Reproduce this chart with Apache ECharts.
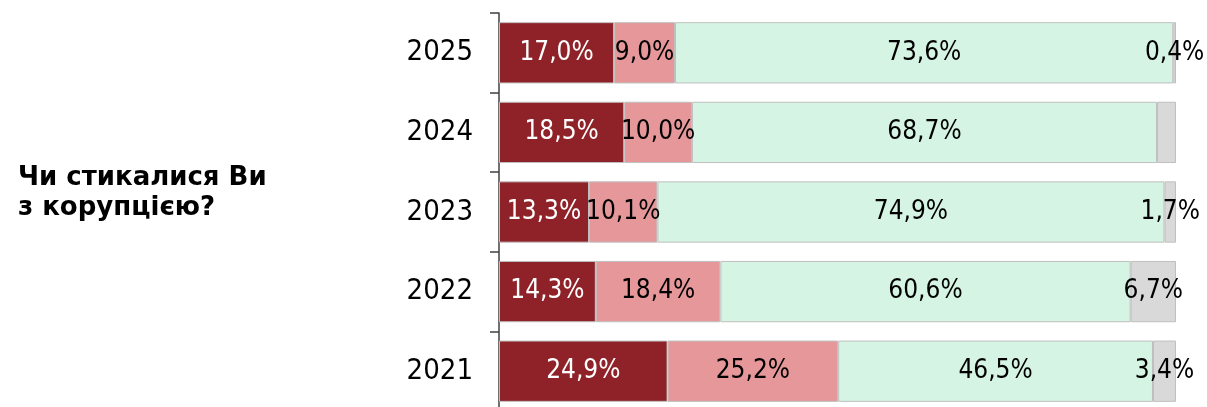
<!DOCTYPE html>
<html>
<head>
<meta charset="utf-8">
<script src="https://cdn.jsdelivr.net/npm/echarts@6/dist/echarts.min.js"></script>
<style>
html,body{margin:0;padding:0;background:#fff;}
#c{width:1207px;height:407px;}
</style>
</head>
<body>
<div id="c"></div>
<script>
const years = ['2025', '2024', '2023', '2022', '2021'];
const seriesNames = ['Так, часто', 'Так, іноді', 'Ні', 'Важко відповісти'];
const valsDark = [17.0, 18.5, 13.3, 14.3, 24.9];
const valsPink = [9.0, 10.0, 10.1, 18.4, 25.2];
const valsGreen = [73.6, 68.7, 74.9, 60.6, 46.5];
const valsGray = [0.4, 2.8, 1.7, 6.7, 3.4];
const grayLabelShown = [true, false, true, true, true];
const titleLines = ['Чи стикалися Ви', 'з корупцією?'];

const FONT = '"DejaVu Sans Condensed", "DejaVu Sans", sans-serif';
const TITLE_FONT = '"DejaVu Sans", sans-serif';
const colors = ['#8F2228', '#E59799', '#D5F4E3', '#D9D9D9'];
const labelColors = ['#ffffff', '#000000', '#000000', '#000000'];
const allVals = [valsDark, valsPink, valsGreen, valsGray];

const fmt = v => v.toFixed(1).replace('.', ',') + '%';

const series = allVals.map((vals, si) => ({
  name: seriesNames[si],
  type: 'bar',
  stack: 'total',
  barWidth: '77%',
  itemStyle: { color: colors[si], borderColor: '#BFBFBF', borderWidth: 1 },
  label: {
    show: true,
    position: 'inside',
    color: labelColors[si],
    fontFamily: FONT,
    fontSize: 26,
    formatter: p => (si === 3 && !grayLabelShown[p.dataIndex]) ? '' : fmt(p.value)
  },
  emphasis: { disabled: true },
  data: vals
}));

const chart = echarts.init(document.getElementById('c'), null, { renderer: 'canvas' });
chart.setOption({
  animation: false,
  backgroundColor: '#ffffff',
  title: {
    text: titleLines.join('\n'),
    left: 13,
    top: 158,
    textStyle: { fontFamily: TITLE_FONT, fontWeight: 'bold', fontSize: 26, lineHeight: 30, color: '#000' }
  },
  grid: { left: 499, right: 31, top: 13, bottom: -4, containLabel: false, outerBoundsMode: 'none' },
  xAxis: { type: 'value', min: 0, max: 100, show: false },
  yAxis: {
    type: 'category',
    inverse: true,
    data: years,
    axisLine: { show: true, lineStyle: { color: '#404040', width: 1.5 } },
    axisTick: { show: true, length: 9, lineStyle: { color: '#404040', width: 1.5 } },
    axisLabel: { margin: 26, fontFamily: FONT, fontSize: 29, color: '#000' }
  },
  series: series
});
</script>
</body>
</html>
